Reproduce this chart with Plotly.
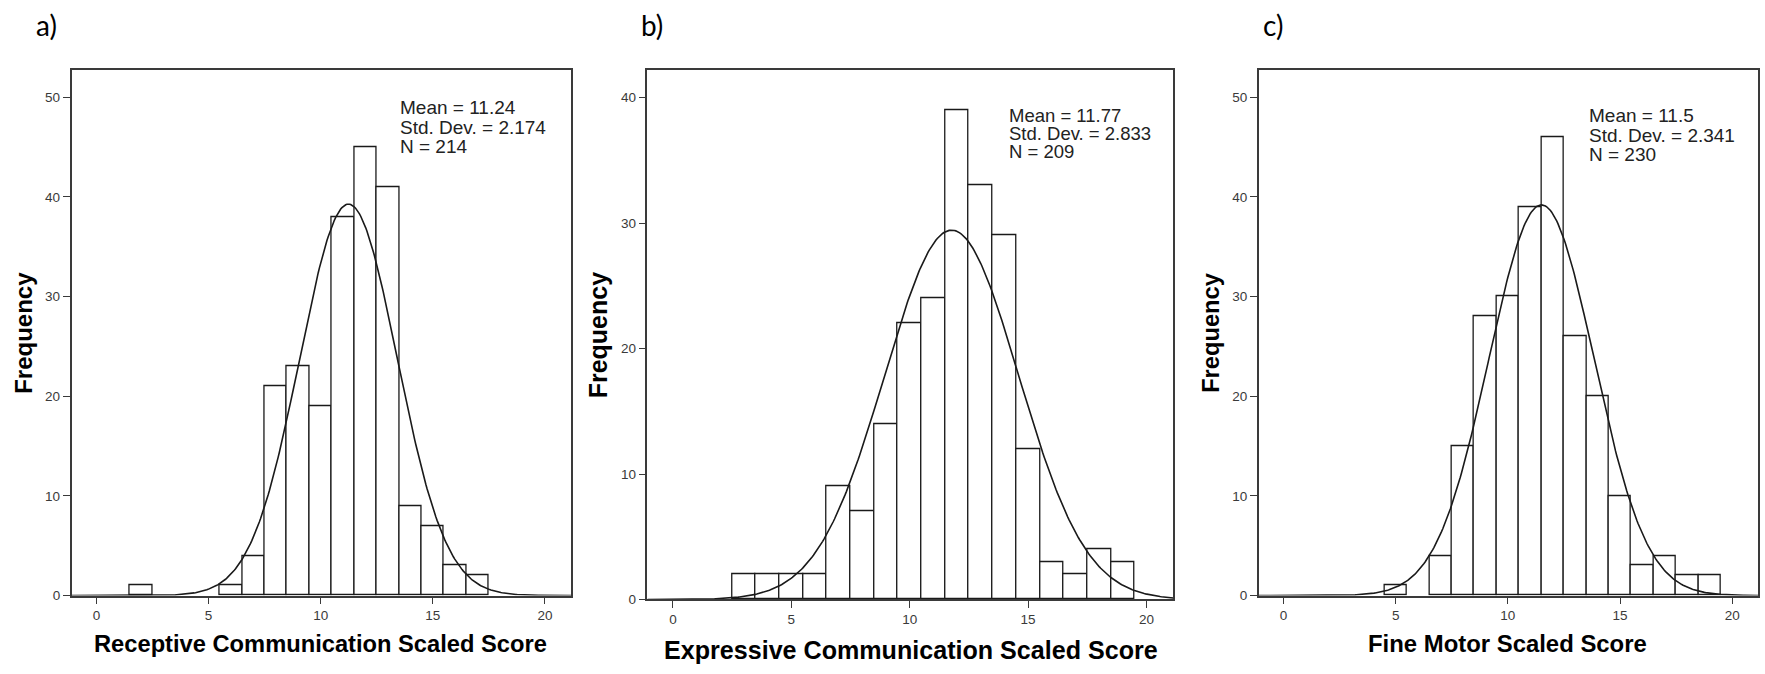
import numpy as np
import plotly.graph_objects as go

W, H = 1765, 674

# ---------------- data ----------------
panel_labels = ["a)", "b)", "c)"]
x_titles = ["Receptive Communication Scaled Score",
            "Expressive Communication Scaled Score",
            "Fine Motor Scaled Score"]

bins_a = [2, 6, 7, 8, 9, 10, 11, 12, 13, 14, 15, 16, 17]
counts_a = [1, 1, 4, 21, 23, 19, 38, 45, 41, 9, 7, 3, 2]

bins_b = [3, 4, 5, 6, 7, 8, 9, 10, 11, 12, 13, 14, 15, 16, 17, 18, 19]
counts_b = [2, 2, 2, 2, 9, 7, 14, 22, 24, 39, 33, 29, 12, 3, 2, 4, 3]

bins_c = [5, 7, 8, 9, 10, 11, 12, 13, 14, 15, 16, 17, 18, 19]
counts_c = [1, 4, 15, 28, 30, 39, 46, 26, 20, 10, 3, 4, 2, 2]

means = [11.24, 11.77, 11.5]
sds = [2.174, 2.833, 2.341]
ns = [214, 209, 230]
mean_labels = ["11.24", "11.77", "11.5"]
sd_labels = ["2.174", "2.833", "2.341"]

x_ticks = [0, 5, 10, 15, 20]

# ---------------- layout geometry (pixels) ----------------
panels = [
    dict(bins=bins_a, counts=counts_a, left=71.6, right=571.0, top=71.0, bottom=602.7,
         xr=[-1.105, 21.16], yr=[0, 52.71], stat_x=398.0, stat_y=[109, 129, 148], stat_fs=19,
         ytitle_x=24, ytitle_fs=24, xtitle_x=320.5, xtitle_y=651.7, xtitle_fs=23.7, label_x=33.7),
    dict(bins=bins_b, counts=counts_b, left=647.4, right=1173.2, top=71.0, bottom=606.7,
         xr=[-1.08, 21.13], yr=[0, 42.18], stat_x=1006.7, stat_y=[116.7, 135, 153.3], stat_fs=18.5,
         ytitle_x=597.5, ytitle_fs=25, xtitle_x=910.7, xtitle_y=658.3, xtitle_fs=25.1, label_x=639.3),
    dict(bins=bins_c, counts=counts_c, left=1258.8, right=1758.2, top=71.0, bottom=602.7,
         xr=[-1.1, 21.16], yr=[0, 52.71], stat_x=1587.1, stat_y=[117.3, 137.3, 156.7], stat_fs=19,
         ytitle_x=1211, ytitle_fs=23.7, xtitle_x=1507.5, xtitle_y=651.7, xtitle_fs=23.9, label_x=1260.7),
]

def px(xp):
    return xp / W

def py(yp):
    return 1 - yp / H

fig = go.Figure()
annotations = []
FONT = "Liberation Sans, Arial, sans-serif"

for i, p in enumerate(panels):
    k = "" if i == 0 else str(i + 1)
    xa, ya = "x" + k, "y" + k

    fig.add_trace(go.Bar(
        x=p["bins"], y=p["counts"], width=1.0, xaxis=xa, yaxis=ya,
        marker=dict(color="white", line=dict(color="#1a1a1a", width=1.3)),
        showlegend=False, hoverinfo="x+y"))

    xs = np.linspace(p["xr"][0], p["xr"][1], 400)
    ys = ns[i] * 1.0 * np.exp(-0.5 * ((xs - means[i]) / sds[i]) ** 2) / (sds[i] * np.sqrt(2 * np.pi))
    fig.add_trace(go.Scatter(
        x=xs, y=ys, mode="lines", xaxis=xa, yaxis=ya,
        line=dict(color="#1a1a1a", width=1.6), showlegend=False, hoverinfo="skip"))

    axis_common = dict(showline=True, mirror=True, linecolor="#3a3a3a", linewidth=1.5,
                       ticks="outside", ticklen=7, tickwidth=1.3, tickcolor="#3a3a3a",
                       showgrid=False, zeroline=False,
                       tickfont=dict(family=FONT, size=13.5, color="#3a3a3a"))
    fig.update_layout(**{
        "xaxis" + k: dict(domain=[px(p["left"]), px(p["right"])], range=p["xr"],
                          tickvals=x_ticks, anchor=ya, **axis_common),
        "yaxis" + k: dict(domain=[py(p["bottom"]), py(p["top"])], range=p["yr"],
                          dtick=10, anchor=xa, **axis_common),
    })

    stat_lines = ["Mean = " + mean_labels[i], "Std. Dev. = " + sd_labels[i], "N = " + str(ns[i])]
    for line, yy in zip(stat_lines, p["stat_y"]):
        annotations.append(dict(x=px(p["stat_x"]), y=py(yy), xref="paper", yref="paper",
                                text=line, showarrow=False, xanchor="left", yanchor="middle",
                                font=dict(family=FONT, size=p["stat_fs"], color="#222222")))

    annotations.append(dict(x=px(p["ytitle_x"]), y=py((p["top"] + p["bottom"]) / 2),
                            xref="paper", yref="paper", text="<b>Frequency</b>", textangle=-90,
                            showarrow=False, xanchor="center", yanchor="middle",
                            font=dict(family=FONT, size=p["ytitle_fs"], color="black")))
    annotations.append(dict(x=px(p["xtitle_x"]), y=py(p["xtitle_y"]), xref="paper", yref="paper",
                            text="<b>" + x_titles[i] + "</b>", showarrow=False,
                            xanchor="center", yanchor="middle",
                            font=dict(family=FONT, size=p["xtitle_fs"], color="black")))
    annotations.append(dict(x=px(p["label_x"]), y=py(25), xref="paper", yref="paper",
                            text=panel_labels[i], showarrow=False, xanchor="left", yanchor="middle",
                            font=dict(family="Lato, Open Sans, sans-serif", size=28, color="black")))

fig.update_layout(width=W, height=H, margin=dict(l=0, r=0, t=0, b=0),
                  paper_bgcolor="white", plot_bgcolor="white", bargap=0,
                  annotations=annotations)

fig.write_html("out.html")
